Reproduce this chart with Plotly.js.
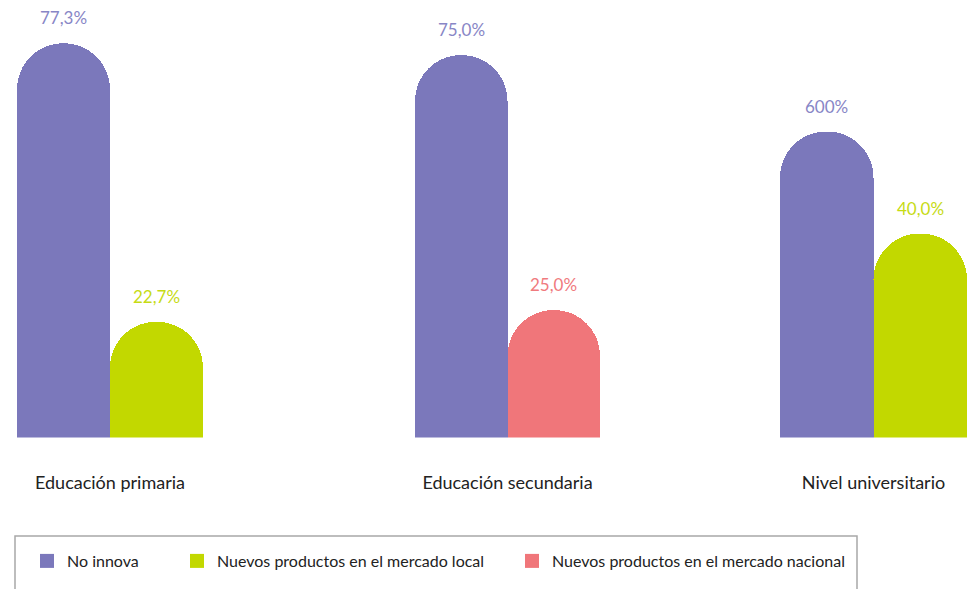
<!DOCTYPE html>
<html>
<head>
<meta charset="utf-8">
<script src="https://cdn.plot.ly/plotly-3.0.1.min.js"></script>
<style>html,body{margin:0;padding:0;background:#fff;}#chart{width:978px;height:589px;}</style>
</head>
<body>
<div id="chart"></div>
<script>
// ---- Data ----
const categories = ['Educación primaria', 'Educación secundaria', 'Nivel universitario'];
const seriesNames = ['No innova', 'Nuevos productos en el mercado local', 'Nuevos productos en el mercado nacional'];
const noInnova = [77.3, 75.0, 60.0];
const mercadoLocal = [22.7, null, 40.0];
const mercadoNacional = [null, 25.0, null];
const labelsNoInnova = ['77,3%', '75,0%', '600%'];
const labelsLocal = ['22,7%', '', '40,0%'];
const labelsNacional = ['', '25,0%', ''];

// ---- Styles ----
const W = 978, H = 589;
const barColors = ['#7b78bb', '#c2d800', '#f0767a'];
const textColors = ['#8886c6', '#c6db14', '#f07a7e'];
const groupDomainsPx = [[17, 203], [415, 600], [780, 967]];
const legendSymbolPx = [47, 197, 532];
const FONT = 'Lato, "Open Sans", sans-serif';

const seriesValues = [noInnova, mercadoLocal, mercadoNacional];
const seriesLabels = [labelsNoInnova, labelsLocal, labelsNacional];
const legendIds = ['legend', 'legend2', 'legend3'];

const traces = [];
const annotations = [];

categories.forEach((cat, g) => {
  const axisSuffix = g === 0 ? '' : String(g + 1);
  const present = [];
  seriesValues.forEach((vals, s) => { if (vals[g] !== null) present.push(s); });
  const wPx = groupDomainsPx[g][1] - groupDomainsPx[g][0];
  present.forEach((s, slot) => {
    traces.push({
      type: 'bar',
      name: seriesNames[s],
      x: [cat],
      y: [seriesValues[s][g]],
      xaxis: 'x' + axisSuffix,
      yaxis: 'y',
      showlegend: false,
      legendgroup: 's' + s,
      marker: { color: barColors[s], cornerradius: '50%', line: { width: 0 } },
      hoverinfo: 'skip'
    });
    const n = present.length;
    const xshift = -wPx / 2 + wPx / n * (slot + 0.5);
    annotations.push({
      xref: 'x' + axisSuffix, yref: 'y',
      x: cat, y: seriesValues[s][g],
      text: seriesLabels[s][g],
      showarrow: false,
      xanchor: 'center', yanchor: 'bottom',
      xshift: xshift, yshift: 13,
      font: { family: FONT, size: 17, color: textColors[s] }
    });
  });
});

// Legend entries (square swatches)
seriesNames.forEach((nm, s) => {
  traces.push({
    type: 'scatter', mode: 'markers', name: nm,
    x: [null], y: [null], xaxis: 'x', yaxis: 'y',
    legend: legendIds[s], legendgroup: 's' + s, showlegend: true,
    marker: { symbol: 'square', size: 14, color: barColors[s], line: { width: 0 } },
    hoverinfo: 'skip'
  });
});

const layout = {
  width: W, height: H,
  margin: { l: 0, r: 0, t: 0, b: 0, pad: 0 },
  paper_bgcolor: '#ffffff', plot_bgcolor: '#ffffff',
  barmode: 'group', bargap: 0, bargroupgap: 0,
  showlegend: true,
  yaxis: {
    domain: [(H - 437.5) / H, 1],
    range: [0, 85.8],
    visible: false, showgrid: false, zeroline: false, fixedrange: true
  },
  annotations: annotations,
  shapes: [{
    type: 'rect', xref: 'paper', yref: 'paper',
    x0: 15 / W, x1: 857 / W, y0: -0.05, y1: (H - 536) / H,
    line: { color: '#a8a8a8', width: 1.5 }, fillcolor: 'rgba(0,0,0,0)'
  }]
};

groupDomainsPx.forEach((d, g) => {
  const key = g === 0 ? 'xaxis' : 'xaxis' + (g + 1);
  layout[key] = {
    domain: [d[0] / W, d[1] / W],
    type: 'category',
    range: [-0.5, 0.5],
    anchor: 'y',
    showgrid: false, zeroline: false, showline: false, ticks: '',
    ticklabelstandoff: 32,
    tickfont: { family: FONT, size: 18, color: '#222222' },
    fixedrange: true
  };
});

legendIds.forEach((id, s) => {
  layout[id] = {
    orientation: 'h',
    x: (legendSymbolPx[s] - 20) / W, xanchor: 'left', xref: 'paper',
    y: (H - 561) / H, yanchor: 'middle', yref: 'paper',
    bgcolor: 'rgba(0,0,0,0)', borderwidth: 0,
    font: { family: FONT, size: 16, color: '#222222' }
  };
});

Plotly.newPlot('chart', traces, layout, { displayModeBar: false, staticPlot: true });
</script>
</body>
</html>
